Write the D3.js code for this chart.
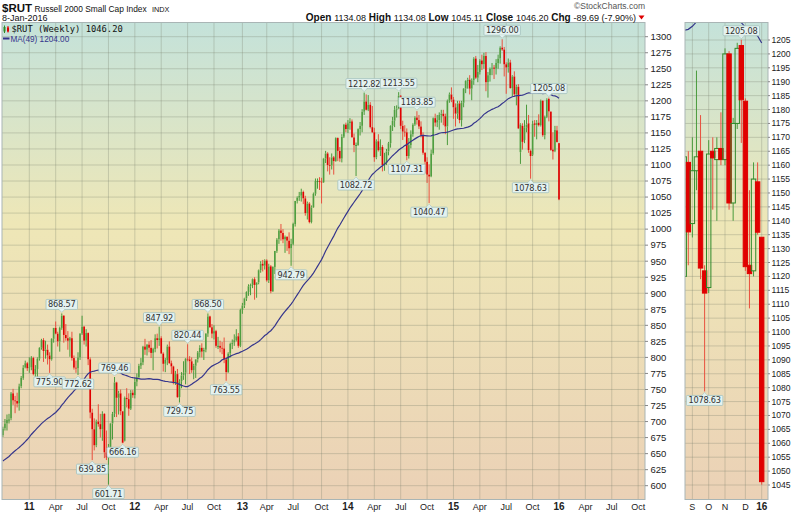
<!DOCTYPE html>
<html><head><meta charset="utf-8">
<script src="https://cdn.jsdelivr.net/npm/d3@7"></script>
<style>body{margin:0;background:#fff;} svg{display:block;font-family:"Liberation Sans",Arial,sans-serif;}</style>
</head><body><svg id="c" width="797" height="516"></svg>
<script>
// ---------- DATA (weekly candles, week of Monday 2010-10-04 .. 2016-01-04) ----------
const firstWeek = "2010-10-04";
const lastWeek = "2016-01-04";
const opens = [
679,690,697,703,705,744,733,732,728,755,768,784,791,
784,785,799,774,782,798,815,827,810,812,803,797,829,846,837,825,846,865,835,830,826,830,799,784,783,800,837,848,826,838,797,714,688,663,700,696,688,712,652,644,659,697,712,761,737,744,716,670,737,735,720,745,
741,762,769,787,792,817,812,820,815,807,813,830,827,830,806,790,796,817,791,786,760,774,738,763,772,776,798,797,794,780,787,797,808,815,809,812,837,864,847,837,841,818,818,815,814,797,777,806,821,823,827,833,818,
874,881,892,902,911,913,922,913,917,936,946,943,951,920,942,903,941,966,984,998,994,984,988,982,970,977,1008,1044,1049,1052,1058,1048,1025,1040,1011,1034,1055,1075,1075,1074,1073,1110,1118,1100,1099,1112,1106,1142,1122,1110,1144,1163,
1156,1165,1168,1143,1131,1131,1156,1161,1183,1199,1186,1194,1159,1151,1112,1137,1123,1128,1100,1103,1121,1134,1161,1169,1186,1188,1208,1161,1152,1151,1114,1131,1148,1163,1174,1170,1160,1147,1119,1105,1085,1082,1118,1173,1166,1170,1178,1180,1176,1160,1200,1210,
1202,1190,1180,1196,1170,1197,1219,1231,1233,1219,1232,1266,1236,1245,1263,1257,1270,1229,1240,1250,1252,1250,1259,1266,1283,1280,1257,1252,1260,1220,1238,1210,1222,1120,1161,1139,1158,1165,1122,1116,1165,1162,1166,1162,1200,1146.4,1175,1203,1183,1124,1122,1154,
1134.08];
const highs = [
692,704,711,712,746,751,740,745,759,771,788,795,793,
800,802,801,788,800,816,829,830,826,820,808,830,846,856,840,848,868.57,866,852,841,832,840,803,795,808,838,865,849,844,839,800,720,705,703,727,712,716,713,686,665,698,715,769.46,762,748,750,716,739,752,744,749,749,
768,775,790,799,818,829,821,825,827,815,836,837,847.92,833,808,799,820,825,795,787,779,782,766,777,794,799,820.44,802,800,790,797,810,819,822,815,838,868.50,865,852,850,843,832,826,824,831,800,808,823,828,836,844,838,876,
885,893,903,914,915,923,925,917,937,950,952,953,953,946,944,942,966,986,1000,1008,1000,990,989,995,985,1010,1044,1051,1058,1063,1060,1052,1043,1042,1037,1057,1079,1079,1081,1080,1111,1122,1120,1112,1118,1114,1143,1143,1128,1148,1164,1166,
1170,1173,1171,1149,1135,1157,1167,1187,1212.82,1210,1209,1198,1192,1158,1140,1148,1140,1131,1119,1125,1136,1162,1175,1192,1193,1213.55,1209,1169,1162,1157,1142,1154,1165,1176,1183.85,1178,1168,1151,1120,1112,1101,1124,1174,1180,1178,1182,1186,1186,1180,1202,1213,1221,
1206,1196,1200,1200,1200,1220,1232,1236,1240,1235,1268,1270,1256,1265,1272,1275,1276,1245,1252,1259,1256,1265,1272,1285,1296.00,1284,1260,1266,1264,1240,1246,1225,1226,1165,1165,1170,1194,1178,1124,1169,1170,1170,1179,1202,1201,1177,1204,1205.08,1184,1151,1161,1161,
1134.08];
const lows = [
676,686,686,697,702,726,713,722,717,752,765,783,779,
776,780,772,769,768,795,812,793,798,789,775.90,795,823,836,817,809,843,823,826,812,801,795,781,776,772.62,796,835,820,817,788,705,639.85,655,660,692,675,670,643,640,601.71,650,672,707,707,711,710,666.16,669,722,709,718,737,
736,755,768,782,788,804,803,808,799,780,808,814,818,806,778,777,788,790,774,758,757,737,729.75,752,765,758,794,774,776,766,768,792,800,800,796,808,832,846,830,828,815,813,808,805,791,763.55,776,800,813,818,825,815,816,
868,877,888,896,897,908,890,893,914,932,934,937,918,916,900,902,930,963,977,982,978,963,966,961,942.79,975,1004,1040,1044,1043,1039,1021,1015,1009,1009,1033,1052,1063,1061,1040,1072,1103,1090,1085,1093,1085,1105,1106,1105,1104,1142,1151,
1150,1155,1143,1120,1082.72,1130,1146,1151,1178,1185,1184,1157,1150,1105,1109,1121,1114,1090,1091,1100,1115,1127,1153,1159,1174,1187,1156,1139,1144,1107.31,1110,1126,1144,1161,1163,1156,1143,1116,1087,1072,1040.47,1081,1116,1160,1159,1155,1166,1162,1148,1131,1197,1198,
1172,1160,1172,1165,1160,1190,1212,1219,1210,1201,1225,1234,1229,1241,1248,1250,1215,1205,1230,1240,1234,1241,1250,1258,1278,1238,1211,1244,1219,1207,1206,1193,1156,1101.68,1124,1134,1151,1119,1078.63,1114,1144,1140,1160,1160,1144,1140,1173,1168,1122,1108.5,1120,1135,
1045.11];
const closes = [
689,697,703,703,744,733,732,728,755,768,784,791,783,
785,799,774,782,798,815,827,810,812,803,797,829,846,837,825,846,865,835,830,826,830,799,784,783,800,837,848,826,838,797,714,688,663,700,696,688,712,652,644,659,697,712,761,737,744,716,667,737,735,720,745,741,
762,769,787,792,817,812,820,815,807,813,830,827,830,806,790,796,817,791,786,760,774,738,763,772,776,798,797,794,780,787,797,808,815,809,812,837,864,847,837,841,818,818,815,814,797,777,806,821,823,827,833,818,874,
881,892,902,911,913,922,913,917,936,946,943,951,920,942,903,941,966,984,998,994,984,988,982,970,977,1008,1044,1049,1052,1058,1048,1025,1040,1011,1034,1055,1075,1075,1074,1073,1110,1118,1100,1099,1112,1106,1142,1122,1110,1144,1163,1156,
1165,1168,1143,1131,1131,1156,1161,1183,1199,1186,1194,1159,1151,1112,1137,1123,1128,1100,1103,1121,1134,1161,1169,1186,1188,1208,1161,1152,1151,1114,1131,1148,1163,1174,1170,1160,1147,1119,1105,1085,1082,1118,1173,1166,1170,1178,1180,1176,1160,1200,1210,1202,
1190,1180,1196,1170,1197,1219,1231,1233,1219,1232,1266,1236,1245,1263,1257,1270,1229,1240,1250,1252,1250,1259,1266,1283,1280,1257,1252,1260,1220,1238,1210,1222,1157,1163,1136,1158,1163,1123,1114,1164,1162.6,1166,1162,1200,1146.4,1175,1202,1183.5,1123.5,1121,1155,1135.89,
1046.20];
// 48 weekly closes before the first visible week (needed for the 49-week average)
const priorCloses = [571,593,590,580,591,599,608,629,625,638,637,617,602,598,600,627,627,650,663,673,679,683,694,708,724,717,657,680,641,658,627,632,660,636,603,634,614,640,650,654,614,610,600,634,634,649,669,676];
const maPeriod = 49;

// annotated highs / lows
const mainNotes = [868.57,775.90,772.62,639.85,601.71,769.46,666.16,847.92,729.75,820.44,868.50,763.55,942.79,1212.82,1082.72,1213.55,1107.31,1183.85,1040.47,1296.00,1205.08,1078.63];
const mainNoteKinds = ["H","L","L","L","L","H","L","H","L","H","H","L","L","H","L","H","L","H","L","H","H","L"];
const zoomNotes = [1205.08,1078.63];
const zoomNoteKinds = ["H","L"];

// axis labels
const years = [2011,2012,2013,2014,2015,2016];
const yearLabels = ["11","12","13","14","15","16"];
const quarterMonths = [3,6,9];
const quarterLabels = ["Apr","Jul","Oct"];
const zoomMonths = [[2015,8],[2015,9],[2015,10],[2015,11],[2016,0]];
const zoomMonthLabels = ["S","O","N","D","16"];

// header texts
const symbolText = "$RUT";
const titleText = "Russell 2000 Small Cap Index";
const exchText = "INDX";
const dateText = "8-Jan-2016";
const quoteLabels = ["Open","High","Low","Close","Chg"];
const quoteValues = ["1134.08","1134.08","1045.11","1046.20","-89.69 (-7.90%)"];
const legendPrice = "$RUT (Weekly) 1046.20";
const legendMA = "MA(49) 1204.00";

// ---------- BUILD ----------
const pd = s => { const [y,m,d] = s.split("-").map(Number); return new Date(y, m-1, d); };
const weeks = d3.timeMonday.range(pd(firstWeek), d3.timeDay.offset(pd(lastWeek), 1));
const allCloses = priorCloses.concat(closes);
const data = weeks.map((d,i) => ({
  date: d, o: opens[i], h: highs[i], l: lows[i], c: closes[i],
  prev: allCloses[i + priorCloses.length - 1],
  ma: d3.mean(allCloses.slice(i + priorCloses.length - maPeriod + 1, i + priorCloses.length + 1))
}));

const svg = d3.select("#c");
const defs = svg.append("defs");
const grad = defs.append("linearGradient").attr("id","bg").attr("gradientUnits","userSpaceOnUse")
  .attr("x1",0).attr("y1",22).attr("x2",0).attr("y2",500);
[[0,"#c4e2da"],[0.42,"#eee7b7"],[1,"#ebd1b6"]].forEach(s => grad.append("stop").attr("offset",s[0]).attr("stop-color",s[1]));

const GREEN = "#2f8a2a", GREEN_W = "#4a9a3c", RED = "#e00000", RED_W = "#e8503e", MA_C = "#35358c";
const GRID = "rgba(120,125,105,0.3)";

function panel(id, box) {
  defs.append("clipPath").attr("id", id).append("rect")
    .attr("x", box.l).attr("y", box.t).attr("width", box.r - box.l).attr("height", box.b - box.t);
  svg.append("rect").attr("x", box.l).attr("y", box.t).attr("width", box.r - box.l).attr("height", box.b - box.t)
    .attr("fill", "url(#bg)");
  return svg.append("g").attr("clip-path", `url(#${id})`);
}
function border(box) {
  svg.append("rect").attr("x", box.l).attr("y", box.t).attr("width", box.r - box.l).attr("height", box.b - box.t)
    .attr("fill", "none").attr("stroke", "#a9b5b5").attr("stroke-width", 1);
}

function candles(g, rows, x, y, bw, wide) {
  rows.forEach(d => {
    const up = d.c >= d.prev;
    const hollow = d.c > d.o;
    const col = up ? GREEN : RED;
    const wcol = up ? GREEN_W : RED_W;
    const top = Math.max(d.o, d.c), bot = Math.min(d.o, d.c);
    const cx = x(d.date);
    g.append("line").attr("x1", cx).attr("x2", cx).attr("y1", y(d.h)).attr("y2", y(top))
      .attr("stroke", wcol).attr("stroke-width", 1);
    g.append("line").attr("x1", cx).attr("x2", cx).attr("y1", y(bot)).attr("y2", y(d.l))
      .attr("stroke", wcol).attr("stroke-width", 1);
    const h = Math.max(0.8, y(bot) - y(top));
    if (wide) {
      g.append("rect").attr("x", cx - bw/2).attr("y", y(top)).attr("width", bw).attr("height", h)
        .attr("fill", hollow ? "none" : col).attr("stroke", col).attr("stroke-width", 1);
    } else {
      g.append("rect").attr("x", cx - bw/2).attr("y", y(top)).attr("width", bw).attr("height", h)
        .attr("fill", hollow ? (up ? "#4f9e40" : "#ef6a5a") : col);
    }
  });
}

function notes(g, rows, x, y, vals, kinds) {
  vals.forEach((v, k) => {
    const kind = kinds[k];
    const d = rows.find(r => kind === "H" ? r.h === v : r.l === v);
    if (!d) return;
    const cx = x(d.date), cy = y(v);
    const gg = g.append("g");
    const t = gg.append("text").text(v.toFixed(2)).attr("font-size", 8.2).attr("fill", "#333")
      .attr("font-family", "'DejaVu Sans',Verdana,sans-serif").attr("letter-spacing", -0.2);
    const w = t.node().getComputedTextLength() + 4, h = 10;
    const by = kind === "H" ? cy - 4 - h : cy + 4;
    gg.insert("rect", "text").attr("x", cx - w/2).attr("y", by).attr("width", w).attr("height", h)
      .attr("fill", "#e4f2f0").attr("stroke", "#a3c2be").attr("stroke-width", 0.8).attr("rx", 1);
    const ty = kind === "H" ? by + h : by;
    const tip = kind === "H" ? cy - 1 : cy + 1;
    gg.insert("path", "text").attr("d", `M${cx-3},${ty}L${cx},${tip}L${cx+3},${ty}Z`)
      .attr("fill", "#e4f2f0").attr("stroke", "#a3c2be").attr("stroke-width", 0.6);
    gg.append("rect").attr("x", cx - 2.4).attr("y", ty - 0.6).attr("width", 4.8).attr("height", 1.2).attr("fill", "#e4f2f0");
    t.attr("x", cx).attr("y", by + 7.9).attr("text-anchor", "middle").raise();
  });
}

// ---------- MAIN PANEL ----------
const M = {l: 2, r: 645, t: 22.5, b: 499.5};
const x = d3.scaleTime().domain([new Date(2011,0,3), new Date(2016,0,4)]).range([29.3, 559]);
const y = d3.scaleLinear().domain([600, 1300]).range([485.7, 36.7]);
const gm = panel("cm", M);
const yTicks = d3.range(600, 1301, 25);
yTicks.forEach(v => gm.append("line").attr("x1", M.l).attr("x2", M.r).attr("y1", y(v)).attr("y2", y(v)).attr("stroke", GRID));
const xTicks = [];
years.forEach((yr, i) => {
  xTicks.push({d: d3.timeMonday.ceil(new Date(yr, 0, 1)), t: yearLabels[i], b: true});
  quarterMonths.forEach((m, j) => xTicks.push({d: d3.timeMonday.ceil(new Date(yr, m, 1)), t: quarterLabels[j], b: false}));
});
xTicks.forEach(k => gm.append("line").attr("x1", x(k.d)).attr("x2", x(k.d)).attr("y1", M.t).attr("y2", M.b).attr("stroke", GRID));
candles(gm, data, x, y, 1.7, false);
gm.append("path").datum(data).attr("d", d3.line().x(d => x(d.date)).y(d => y(d.ma)))
  .attr("fill", "none").attr("stroke", MA_C).attr("stroke-width", 1.2);
notes(gm, data, x, y, mainNotes, mainNoteKinds);
border(M);
// y axis
yTicks.forEach(v => {
  svg.append("line").attr("x1", M.r).attr("x2", M.r + 3).attr("y1", y(v)).attr("y2", y(v)).attr("stroke", "#888");
  svg.append("text").attr("x", M.r + 5.5).attr("y", y(v)).attr("dy", "0.35em").attr("font-size", 9.5).attr("fill", "#222").text(v);
});
// x axis
xTicks.forEach(k => {
  const xx = x(k.d);
  if (xx < M.l || xx > M.r) return;
  svg.append("text").attr("x", xx).attr("y", 510).attr("text-anchor", "middle").attr("font-size", k.b ? 10 : 9)
    .attr("font-weight", k.b ? "bold" : "normal").attr("fill", "#222").text(k.t);
});

// ---------- ZOOM PANEL ----------
const Z = {l: 685, r: 768, t: 22.5, b: 499.5};
const xz = d3.scaleTime().domain([new Date(2015,7,31), new Date(2016,0,4)]).range([688.3, 761.7]);
const yz = d3.scaleLinear().domain([1045, 1205]).range([485, 40]);
const gz = panel("cz", Z);
const zTicks = d3.range(1045, 1206, 5);
zTicks.forEach(v => gz.append("line").attr("x1", Z.l).attr("x2", Z.r).attr("y1", yz(v)).attr("y2", yz(v)).attr("stroke", GRID));
const zx = zoomMonths.map(m => d3.timeMonday.ceil(new Date(m[0], m[1], 1)));
zx.forEach(d => gz.append("line").attr("x1", xz(d)).attr("x2", xz(d)).attr("y1", Z.t).attr("y2", Z.b).attr("stroke", GRID));
const zRows = data.filter(d => xz(d.date) > Z.l - 4);
gz.append("path").datum(data.filter(d => xz(d.date) > Z.l - 12)).attr("d", d3.line().x(d => xz(d.date)).y(d => yz(d.ma)))
  .attr("fill", "none").attr("stroke", MA_C).attr("stroke-width", 1.2);
candles(gz, zRows, xz, yz, 4.4, true);
notes(gz, zRows, xz, yz, zoomNotes, zoomNoteKinds);
border(Z);
zTicks.forEach(v => {
  svg.append("line").attr("x1", Z.r).attr("x2", Z.r + 2).attr("y1", yz(v)).attr("y2", yz(v)).attr("stroke", "#888");
  svg.append("text").attr("x", Z.r + 3.5).attr("y", yz(v)).attr("dy", "0.35em").attr("font-size", 8.6).attr("fill", "#222").text(v);
});
zx.forEach((d, i) => {
  svg.append("text").attr("x", xz(d)).attr("y", 510).attr("text-anchor", "middle")
    .attr("font-size", i === 4 ? 10 : 9).attr("font-weight", i === 4 ? "bold" : "normal").attr("fill", "#222").text(zoomMonthLabels[i]);
});

// ---------- HEADER & LEGEND ----------
svg.append("text").attr("x", 2).attr("y", 11.5).attr("font-size", 11.5).attr("font-weight", "bold").attr("fill", "#111").text(symbolText);
svg.append("text").attr("x", 34.5).attr("y", 11.5).attr("font-size", 8.4).attr("fill", "#111").text(titleText);
svg.append("text").attr("x", 152).attr("y", 11.5).attr("font-size", 7.3).attr("fill", "#111").text(exchText);
svg.append("text").attr("x", 2).attr("y", 20.5).attr("font-size", 9).attr("fill", "#111").text(dateText);
const q = svg.append("text").attr("x", 636).attr("y", 20.5).attr("text-anchor", "end").attr("font-size", 9).attr("fill", "#111");
quoteLabels.forEach((l, i) => {
  q.append("tspan").attr("font-weight", "bold").attr("font-size", 10).text((i ? " " : "") + l + " ");
  q.append("tspan").text(quoteValues[i]);
});
svg.append("path").attr("d", "M638.5,15.5L644.5,15.5L641.5,19.5Z").attr("fill", "#d00");
svg.append("text").attr("x", 645).attr("y", 9).attr("text-anchor", "end").attr("font-size", 8.5).attr("fill", "#555").text("\u00A9StockCharts.com");

// legend
svg.append("rect").attr("x", 3.5).attr("y", 27).attr("width", 2).attr("height", 4.5).attr("fill", GREEN);
svg.append("line").attr("x1", 4.5).attr("x2", 4.5).attr("y1", 25.5).attr("y2", 33).attr("stroke", GREEN);
svg.append("rect").attr("x", 7).attr("y", 27.5).attr("width", 2).attr("height", 4).attr("fill", RED);
svg.append("line").attr("x1", 8).attr("x2", 8).attr("y1", 26).attr("y2", 32.5).attr("stroke", RED);
svg.append("text").attr("x", 11.5).attr("y", 32).attr("font-family", "'DejaVu Sans Mono',monospace").attr("font-size", 8.8).attr("fill", "#111").text(legendPrice);
svg.append("line").attr("x1", 3).attr("x2", 9.5).attr("y1", 38.5).attr("y2", 38.5).attr("stroke", MA_C).attr("stroke-width", 2);
svg.append("text").attr("x", 10.5).attr("y", 42).attr("font-size", 8.2).attr("fill", MA_C).text(legendMA);
</script></body></html>
